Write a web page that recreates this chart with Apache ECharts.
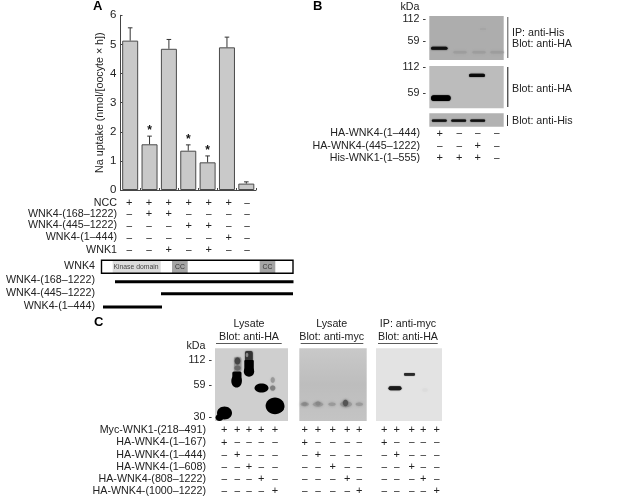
<!DOCTYPE html>
<html><head><meta charset="utf-8">
<style>html,body{margin:0;padding:0;background:#fff}#c{width:624px;height:498px}</style>
<script src="https://cdn.jsdelivr.net/npm/echarts@6/dist/echarts.min.js"></script>
</head><body><div id="c"></div>
<script>
// ---- data ----
const conditions = ['1','2','3','4','5','6','7'];
const uptake = [5.13,1.57,4.85,1.35,0.95,4.9,0.22];
const uptakeTop = [5.57,1.85,5.17,1.55,1.17,5.25,0.28];
const significant = [0,1,0,1,1,0,0];
const yTicks = [0,1,2,3,4,5,6];
const tableALabels = ['NCC','WNK4-(168–1222)','WNK4-(445–1222)','WNK4-(1–444)','WNK1'];
const tableASigns = ['++++++–','–++––––','–––++––','–––––+–','––+–+––'];
const constructLabels = ['WNK4-(168–1222)','WNK4-(445–1222)','WNK4-(1–444)'];
const tableBLabels = ['HA-WNK4-(1–444)','HA-WNK4-(445–1222)','His-WNK1-(1–555)'];
const tableBSigns = ['+–––','––+–','+++–'];
const tableCLabels = ['Myc-WNK1-(218–491)','HA-WNK4-(1–167)','HA-WNK4-(1–444)','HA-WNK4-(1–608)','HA-WNK4-(808–1222)','HA-WNK4-(1000–1222)'];
const tableCSigns = ['+++++','+––––','–+–––','––+––','–––+–','––––+'];

// ---- layout ----
const FS = 10.7, FONT = '"Liberation Sans",Arial,sans-serif', INK = '#222';
const g = [];
function txt(x,y,s,o={}){g.push({type:'text',silent:true,x,y,style:Object.assign({text:s,fill:INK,font:`${FS}px ${FONT}`,textAlign:'left',textVerticalAlign:'middle'},o)});}
function rect(x0,y0,x1,y1,fill,blur,r){g.push({type:'rect',silent:true,shape:{x:x0,y:y0,width:x1-x0,height:y1-y0,r:r!==undefined?r:(blur?Math.min(y1-y0,x1-x0)/2:0)},
  style:{fill,shadowBlur:blur||0,shadowColor:fill}});}
function oval(cx,cy,rx,ry,fill,blur){g.push({type:'ellipse',silent:true,shape:{cx,cy,rx,ry},style:{fill,shadowBlur:blur||0,shadowColor:fill}});}
function signs(rows,cols,ys){rows.forEach((r,i)=>[...r].forEach((c,j)=>txt(cols[j],ys[i],c,{textAlign:'center',font:`${c==='+'?11:10}px ${FONT}`,fill:'#222'})));}
function labels(list,x,ys){list.forEach((s,i)=>txt(x,ys[i],s,{textAlign:'right'}));}
const bold=`bold 13px ${FONT}`;
txt(93,6,'A',{font:bold,fill:'#000'});txt(313,6,'B',{font:bold,fill:'#000'});txt(94,322,'C',{font:bold,fill:'#000'});

// table A
labels(tableALabels,117,[202.7,214,225.5,237.5,250]);
signs(tableASigns,[129.3,149,168.7,188.7,208.7,228.7,247],[203,214.3,225.8,237.8,250.3]);
// construct map
labels(['WNK4'],95,[266]);
rect(112.7,260.5,160.7,273,'#dcdcdc');rect(172,260.5,187.7,273,'#a4a4a4');rect(259.7,260.5,275.3,273,'#a4a4a4');
g.push({type:'rect',silent:true,shape:{x:101.5,y:260.2,width:191.5,height:13},style:{fill:'none',stroke:'#000',lineWidth:1.4}});
txt(136,267,'Kinase domain',{textAlign:'center',font:`6.8px ${FONT}`,fill:'#444'});
txt(180,267,'CC',{textAlign:'center',font:`6.8px ${FONT}`,fill:'#333'});
txt(267.5,267,'CC',{textAlign:'center',font:`6.8px ${FONT}`,fill:'#333'});
labels(constructLabels,95,[280,293,306]);
rect(115,280.2,293.5,283.2,'#000');rect(161,292.2,293,295.2,'#000');rect(103,305.5,162,308.5,'#000');

// panel B
rect(429.3,16,503.7,60,'#adadad');rect(429.3,66,503.7,108.3,'#bcbcbc');rect(429.3,113.3,503.7,126.7,'#b2b2b2');
rect(431,46.8,447.5,49.8,'#111',1.5);
[460,479,497].forEach(x=>rect(x-6.5,51,x+6.5,53.6,'#9d9d9d',2.5));
rect(480,28.5,486,29.5,'#a2a2a2',1.5);
rect(469,73.8,485,77,'#0a0a0a',1.2);
rect(431,95.2,450.7,101,'#000',1.2);
[439.3,458.7,477.7].forEach(x=>rect(x-7.5,119.4,x+7.5,121.8,'#111',1.2));
rect(507.3,17,508.3,58,'#555');rect(507.3,67,508.3,107,'#111');rect(507,115,508,126,'#333');
txt(410,7,'kDa',{textAlign:'center'});
labels(['112 -','59 -','112 -','59 -'],426,[19.5,40.7,66.7,92.7]);
txt(512,32.7,'IP: anti-His');txt(512,43.7,'Blot: anti-HA');txt(512,89.3,'Blot: anti-HA');txt(512,121,'Blot: anti-His');
labels(tableBLabels,420,[133.3,146,157.7]);
signs(tableBSigns,[439.7,459.3,477.7,496.7],[133.6,146.3,158]);

// panel C blots
rect(215,348.3,288,421,'#cfcfcf');
g.push({type:'rect',silent:true,shape:{x:299.3,y:348.3,width:67.4,height:72.7},style:{fill:{type:'linear',x:0,y:0,x2:0,y2:1,colorStops:[{offset:0,color:'#c9c9c9'},{offset:.5,color:'#bdbdbd'},{offset:1,color:'#c4c4c4'}]}}});
rect(376,348.3,442,421,'#e3e3e3');
// left blot smears
rect(234,357,241.3,372,'#9a9a9a',1.5,2);oval(237.5,361,2.8,3.5,'#444',1.5);oval(237.5,368,3,2.5,'#666',1.5);
rect(245,351,252.7,362,'#333',1.5,2);oval(247,355,1.2,2,'#888',1);
oval(272.7,380,2,2.8,'#999',1.5);oval(272.7,388,2.6,2.6,'#808080',1.5);
// left blot blobs
oval(224.5,413,7.5,6.5,'#000');oval(219.5,417.5,4,3.6,'#000');
rect(232.3,371.5,241.5,382,'#000',0,1.5);oval(236.6,381,5.3,6.6,'#000');
rect(244.3,360,253.8,372,'#000',0,1);oval(249,371.5,5.2,5.2,'#000');
oval(261.5,388,7,4.6,'#000');
oval(275,405.8,9.4,8.4,'#000');oval(279.5,407,4.8,5.2,'#000');
// middle blot bands
[[304.7,.9],[318,1.1],[332,.8],[346,1.3],[359.3,.8]].forEach(([x,k])=>oval(x,404.3,4.6*k,2.2*k,'#9a9a9a',3));
oval(345.5,403,2.6,3.2,'#555',2.5);oval(318,403.5,2.5,2,'#888',2);oval(304.7,404,2.5,1.5,'#888',2);
// right blot bands
rect(388.5,386.3,401.5,390.3,'#1a1a1a',1.2);rect(404,373,415,375.8,'#2a2a2a',1);oval(425,390,3,1.5,'#dcdcdc',2);
// panel C text
[[249,'Lysate','Blot: anti-HA',216,281.7],[331.7,'Lysate','Blot: anti-myc',300.7,363.3],[408,'IP: anti-myc','Blot: anti-HA',378,437.7]].forEach(([x,a,b,u0,u1])=>{
  txt(x,324,a,{textAlign:'center'});txt(x,336.7,b,{textAlign:'center'});rect(u0,343,u1,343.8,'#222');
});
txt(196,345.7,'kDa',{textAlign:'center'});
labels(['112 -','59 -','30 -'],212,[360,385.3,417]);
const cY=[430,442.3,455,467,479,491];
labels(tableCLabels,206,cY);
[[224.3,237.3,249,261.3,275],[304.7,318,332.7,347.3,359.3],[384.3,396.7,411.7,423.3,436.7]].forEach(cols=>signs(tableCSigns,cols,cY.map(y=>y+.3)));

// ---- chart ----
const chart = echarts.init(document.getElementById('c'),null,{renderer:'canvas'});
chart.setOption({
  animation:false,backgroundColor:'#fff',
  grid:{left:120.5,top:15.3,width:135.5,height:174.7,containLabel:false},
  xAxis:{type:'category',data:conditions,axisLabel:{show:false},
    axisTick:{show:true,inside:true,alignWithLabel:false,length:2,lineStyle:{color:'#444',width:1}},
    axisLine:{lineStyle:{color:'#444',width:1}}},
  yAxis:{type:'value',min:yTicks[0],max:yTicks[yTicks.length-1],interval:1,
    name:'Na uptake (nmol/[oocyte × h])',nameLocation:'middle',nameGap:15,nameRotate:90,
    nameTextStyle:{color:INK,fontSize:FS,fontFamily:FONT},
    axisLabel:{color:INK,fontSize:11.5,fontFamily:FONT,margin:4},splitLine:{show:false},
    axisTick:{show:true,inside:true,length:2,lineStyle:{color:'#444'}},
    axisLine:{show:true,lineStyle:{color:'#444',width:1}}},
  series:[
    {type:'bar',data:uptake,barWidth:16,itemStyle:{color:'#c9c9c9',borderColor:'#4a4a4a',borderWidth:1},z:2},
    {type:'custom',z:3,data:uptake.map((v,i)=>[i,v,uptakeTop[i],significant[i]]),encode:{x:0,y:[1,2]},
      renderItem(params,api){
        const p0=api.coord([api.value(0),api.value(1)]),p1=api.coord([api.value(0),api.value(2)]);
        const st={stroke:'#333',lineWidth:1};
        const ch=[{type:'line',shape:{x1:p0[0],y1:p0[1],x2:p0[0],y2:p1[1]},style:st},
                  {type:'line',shape:{x1:p0[0]-2.3,y1:p1[1],x2:p0[0]+2.3,y2:p1[1]},style:st}];
        if(api.value(3)) ch.push({type:'text',style:{x:p0[0],y:p1[1]-5.5,text:'*',fill:'#111',font:`bold 12px ${FONT}`,textAlign:'center',textVerticalAlign:'middle'}});
        return {type:'group',children:ch};
      }}
  ],
  graphic:{elements:g}
});
</script></body></html>
